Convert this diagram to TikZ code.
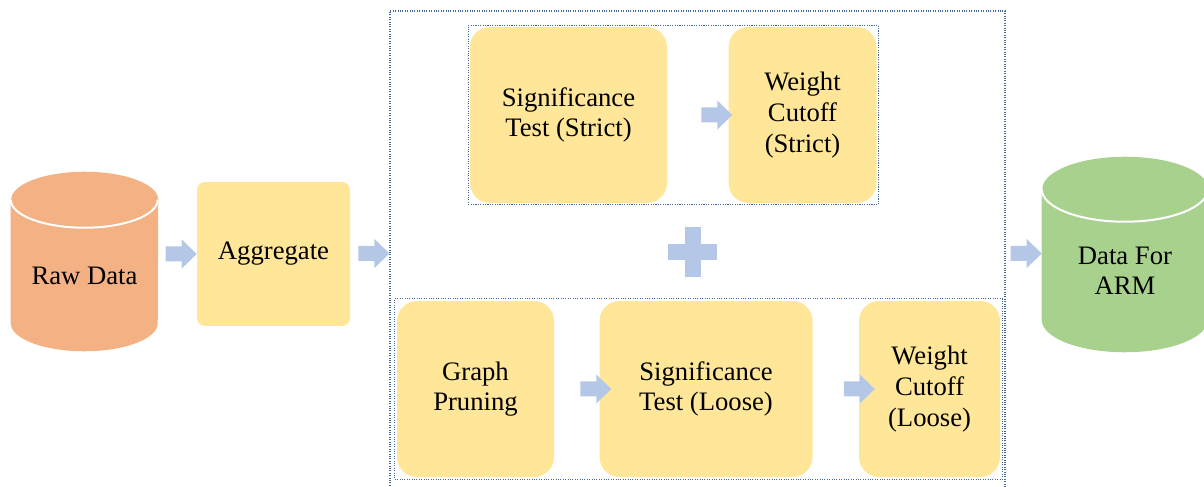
\documentclass[tikz,border=0pt]{standalone}
\usepackage{fontspec}
\setmainfont{Liberation Serif}
\usetikzlibrary{positioning, fit, backgrounds}

\definecolor{rawfill}{HTML}{F4B183}
\definecolor{armfill}{HTML}{A9D18E}
\definecolor{stagefill}{HTML}{FFE699}
\definecolor{arrowfill}{HTML}{B4C7E7}
\definecolor{groupline}{HTML}{44689A}

\tikzset{
	stage/.style = {fill = stagefill, rounded corners = 15pt, align = center, inner sep = 0pt, minimum height = 132pt, font = \fontsize{20}{23}\selectfont},
	store/.style = {align = center, inner sep = 0pt, font = \fontsize{20}{23}\selectfont},
	group/.style = {draw = groupline, densely dotted, line width = 0.8pt},
	pics/fatarrow/.style = {code = {
		\fill [arrowfill] (-31, -7.5) -- (-15, -7.5) -- (-15, -14.5) -- (0, 0) -- (-15, 14.5) -- (-15, 7.5) -- (-31, 7.5) -- cycle;
	}}
}

\begin{document}

\begin{tikzpicture}[x = 0.75pt, y = 0.75pt]

	\useasboundingbox (0, 0) rectangle (1204, 486);

	% Stores
	
	\node [store, minimum width = 110.25pt, minimum height = 71.25pt] (raw) at (84.5, 210.5) {Raw Data};
	\node [store, minimum width = 124.5pt, minimum height = 73.125pt] (arm) at (1125, 215.25) {Data For\\ARM};
	
	\begin{scope}[on background layer]
		\fill [rawfill] ([yshift = 21pt] raw.north west) -- (raw.south west) arc [start angle = 180, end angle = 360, x radius = 55.125pt, y radius = 21pt] -- ([yshift = 21pt] raw.north east) arc [start angle = 0, end angle = 180, x radius = 55.125pt, y radius = 21pt] -- cycle;
		\draw [white, line width = 1.5pt] ([yshift = 21pt] raw.north west) arc [start angle = 180, end angle = 360, x radius = 55.125pt, y radius = 21pt];
		
		\fill [armfill] ([yshift = 24.375pt] arm.north west) -- (arm.south west) arc [start angle = 180, end angle = 360, x radius = 62.25pt, y radius = 24.375pt] -- ([yshift = 24.375pt] arm.north east) arc [start angle = 0, end angle = 180, x radius = 62.25pt, y radius = 24.375pt] -- cycle;
		\draw [white, line width = 1.5pt] ([yshift = 24.375pt] arm.north west) arc [start angle = 180, end angle = 360, x radius = 62.25pt, y radius = 24.375pt];
	\end{scope}
	
	% Stages
	
	\node [stage, rounded corners = 6pt, minimum width = 114.75pt, minimum height = 108pt] (agg) at (273.5, 232) {Aggregate};
	
	\node [stage, minimum width = 147.75pt] (sigs) at (568.5, 371) {Significance\\Test (Strict)};
	\node [stage, minimum width = 111pt, right = 45.75pt of sigs] (wgts) {Weight\\Cutoff\\(Strict)};
	
	\node [stage, minimum width = 117.75pt] (prune) at (475.5, 97) {Graph\\Pruning};
	\node [stage, minimum width = 159.75pt, right = 33.75pt of prune] (sigl) {Significance\\Test (Loose)};
	\node [stage, minimum width = 105.75pt, right = 34.5pt of sigl] (wgtl) {Weight\\Cutoff\\(Loose)};
	
	% Groups
	
	\node [group, fit = (sigs) (wgts), inner sep = 1.1pt] (strict) {};
	\node [group, fit = (prune) (sigl) (wgtl), inner sep = 1.5pt] (loose) {};
	\node [group, minimum width = 461.25pt, minimum height = 363.75pt] (pipeline) at (697.5, 232.5) {};
	
	\fill [arrowfill] (668, 226) rectangle (717, 242);
	\fill [arrowfill] (685, 209) rectangle (701, 259);
	
	% Arrows
	
	\pic at (agg.west) {fatarrow};
	\pic at (pipeline.west) {fatarrow};
	\pic at (pipeline.east -| arm.west) {fatarrow};
	\pic at ([xshift = 3pt] wgts.west) {fatarrow};
	\pic at ([xshift = 9pt] sigl.west) {fatarrow};
	\pic at ([xshift = 12pt] wgtl.west) {fatarrow};
	
\end{tikzpicture}

\end{document}
